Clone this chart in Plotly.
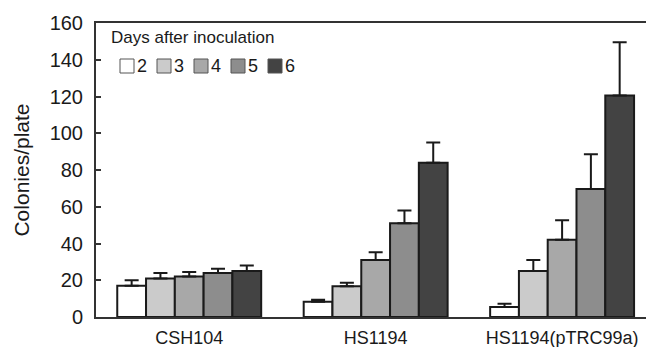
import plotly.graph_objects as go

strains = ["CSH104", "HS1194", "HS1194(pTRC99a)"]
days = ["2", "3", "4", "5", "6"]
# colonies/plate per day (rows) for each strain (columns)
day2 = [17, 8.3, 5.4]
day3 = [21, 16.8, 25]
day4 = [22, 31, 42]
day5 = [24, 51, 69.6]
day6 = [25, 84, 120.5]
err2 = [3, 1.1, 1.8]
err3 = [3, 1.8, 6]
err4 = [2.5, 4.2, 10.7]
err5 = [2.2, 7, 19]
err6 = [3, 11, 29]
colors = ["#ffffff", "#cbcbcb", "#a8a8a8", "#8d8d8d", "#434343"]

values = [day2, day3, day4, day5, day6]
errors = [err2, err3, err4, err5, err6]

FONT = "Liberation Sans, Arial, sans-serif"
W, H = 646, 347
ML, MR, MT, MB = 96, 0, 23, 30
PW, PH = W - ML - MR, H - MT - MB

fig = go.Figure()
for d, v, e, c in zip(days, values, errors, colors):
    fig.add_trace(go.Bar(
        x=strains, y=v, name=d,
        marker=dict(color=c, line=dict(color="#1a1a1a", width=2)),
        error_y=dict(type="data", array=e, arrayminus=[0] * len(e), symmetric=False,
                     color="#1a1a1a", thickness=2, width=7),
        showlegend=False,
    ))

def px_x(p):
    return (p - ML) / PW

def px_y(p):
    return (H - MB - p) / PH

shapes = []
annotations = [dict(text="Days after inoculation", xref="paper", yref="paper",
                    x=px_x(109), y=px_y(38), xanchor="left", yanchor="middle",
                    showarrow=False, font=dict(family=FONT, size=17, color="#1a1a1a"))]
x0 = 120
for i, (d, c) in enumerate(zip(days, colors)):
    bx = x0 + i * 37
    shapes.append(dict(type="rect", xref="paper", yref="paper",
                       x0=px_x(bx), x1=px_x(bx + 14), y0=px_y(73), y1=px_y(59),
                       fillcolor=c, line=dict(color="#555555", width=1)))
    annotations.append(dict(text=d, xref="paper", yref="paper",
                            x=px_x(bx + 15), y=px_y(66), xanchor="left", yanchor="middle",
                            showarrow=False, font=dict(family=FONT, size=18, color="#1a1a1a")))

fig.update_layout(
    width=W, height=H,
    margin=dict(l=ML, r=MR, t=MT, b=MB, pad=0),
    paper_bgcolor="white", plot_bgcolor="white",
    barmode="group", bargap=0.228, bargroupgap=0,
    font=dict(family=FONT, color="#1a1a1a"),
    shapes=shapes, annotations=annotations,
    xaxis=dict(range=[-0.5, 2.45], showline=True, mirror=True, linecolor="#333333",
               linewidth=2, ticks="", showgrid=False, zeroline=False,
               ticklabelstandoff=3,
               tickfont=dict(family=FONT, size=18, color="#1a1a1a")),
    yaxis=dict(range=[0, 160], dtick=20, showline=True, linecolor="#333333", linewidth=2,
               ticks="inside", ticklen=5, tickwidth=2, tickcolor="#333333",
               showgrid=False, zeroline=False,
               ticklabelstandoff=7,
               tickfont=dict(family=FONT, size=20, color="#1a1a1a"),
               title=dict(text="Colonies/plate", standoff=14,
                          font=dict(family=FONT, size=21, color="#1a1a1a"))),
)

fig.write_html("out.html", config={"displayModeBar": False},
               post_script="document.body.style.margin='0';document.body.style.overflow='hidden';")
